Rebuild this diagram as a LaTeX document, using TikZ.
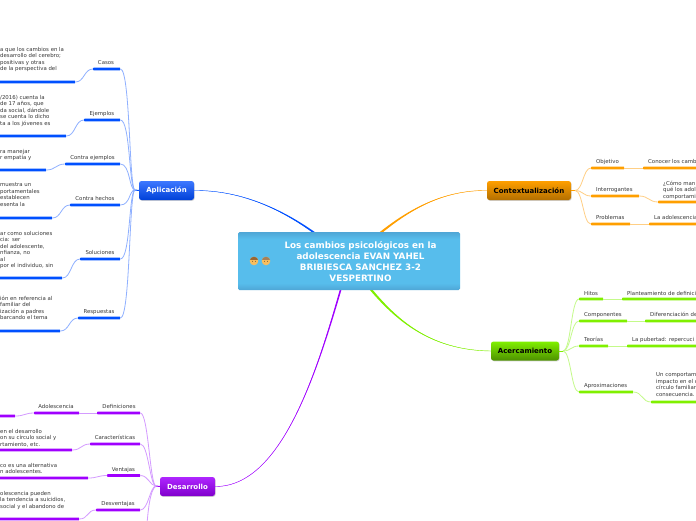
\documentclass[tikz,border=0pt]{standalone}
\usepackage{fontspec}
\setmainfont{DejaVu Sans}
\usetikzlibrary{shadows,calc}
\definecolor{tblue}{HTML}{0050FF}
\definecolor{lblue}{HTML}{8FB0FF}
\definecolor{torange}{HTML}{FF9F00}
\definecolor{lorange}{HTML}{FFCF85}
\definecolor{tgreen}{HTML}{80F000}
\definecolor{lgreen}{HTML}{C4FA8A}
\definecolor{tpurple}{HTML}{A000FF}
\definecolor{lpurple}{HTML}{D49BFF}
\definecolor{txt}{HTML}{383838}
\definecolor{skya}{HTML}{4FA6D6}
\definecolor{skyb}{HTML}{57BDEC}
\definecolor{bluetop}{HTML}{3D78FF}
\definecolor{bluebot}{HTML}{0040D8}
\definecolor{skin}{HTML}{F7BE5F}
\pgfdeclareverticalshading{ctrshade}{100bp}{color(0bp)=(skya); color(25bp)=(skya); color(31bp)=(skyb); color(69bp)=(skyb); color(75bp)=(skya); color(100bp)=(skya)}
\tikzset{
 lab/.style={font=\fontsize{5.4}{6.5}\selectfont,text=txt,inner sep=0pt,align=left,yshift=-0.8pt},
 main/.style={rounded corners=2.5pt,font=\bfseries\fontsize{7}{8}\selectfont,inner sep=0pt,minimum height=19pt,drop shadow={shadow xshift=0.6pt,shadow yshift=-0.8pt,opacity=.35}},
 conn/.style={line width=0.8pt},
 tbar/.style={inner sep=0pt,minimum height=2.8pt,rounded corners=0.5pt},
}
% name, x-left, x-right, y, colour
\newcommand{\tbarnode}[5]{\pgfmathsetmacro{\bw}{#3-(#2)}\node[tbar,fill=#5,minimum width=\bw pt,anchor=west] (#1) at (#2,#4) {};}
\newcommand{\lnk}[3]{\draw[conn,#3] (#1) .. controls +(-9,0) and +(9,0) .. (#2);}
\newcommand{\lnkr}[3]{\draw[conn,#3] (#1) .. controls +(9,0) and +(-9,0) .. (#2);}
\begin{document}
\begin{tikzpicture}[x=1pt,y=-1pt]
\useasboundingbox (0,0) rectangle (696,520);
\clip (0,0) rectangle (696,520);
\fill[white] (0,0) rectangle (696,520);

% central and main nodes
\node[main,minimum width=55pt,text=white,top color=bluetop,bottom color=bluebot] (apl) at (166.5,190.5) {Aplicación};
\node[main,minimum width=84pt,text=black,top color=torange,bottom color=torange!70!black] (ctx) at (529,190.5) {Contextualización};
\node[main,minimum width=68pt,text=black,top color=tgreen,bottom color=tgreen!60!black] (ace) at (525,351) {Acercamiento};
\node[main,minimum width=55pt,text=white,top color=tpurple!85!white,bottom color=tpurple!80!black] (des) at (187.5,486.5) {Desarrollo};
\coordinate (ctr) at (349,261);

% main connectors
\fill[tblue] (apl.east) .. controls (255,190) and (305,222) .. ([shift={(-1,1)}]ctr) -- ([shift={(1,-1)}]ctr) .. controls (306,221) and (255,190) .. (apl.east);
\draw[tblue,line width=.4pt] (apl.east) .. controls (255,190) and (305,222) .. (ctr);
\fill[torange] (ctx.west) .. controls (432,190) and (392,221) .. ([shift={(1,1)}]ctr) -- ([shift={(-1,-1)}]ctr) .. controls (391,219) and (432,190) .. (ctx.west);
\draw[torange,line width=.4pt] (ctx.west) .. controls (432,190) and (392,220) .. (ctr);
\fill[tgreen] (ace.west) .. controls (420,350) and (385,309) .. ([shift={(1,-1)}]ctr) -- ([shift={(-1,1)}]ctr) .. controls (384,311) and (420,350) .. (ace.west);
\draw[tgreen,line width=.4pt] (ace.west) .. controls (420,350) and (385,310) .. (ctr);
\fill[tpurple] (des.east) .. controls (290,487) and (325,340) .. ([shift={(-1,0)}]ctr) -- ([shift={(1,0)}]ctr) .. controls (326,340) and (290,487) .. (des.east);
\draw[tpurple,line width=.4pt] (des.east) .. controls (290,487) and (325,340) .. (ctr);

\node[inner sep=0pt,minimum width=222pt,minimum height=58pt,rounded corners=1.5pt,shading=ctrshade] (ctrbox) at (349,261) {};
\node[text=white,font=\bfseries\fontsize{8.8}{11}\selectfont,align=center,inner sep=0pt] (title) at (360.5,261.8) {Los cambios psicológicos en la\\adolescencia EVAN YAHEL\\BRIBIESCA SANCHEZ 3-2\\VESPERTINO};

% faces
\foreach \nm/\fx/\hc in {facea/254/brown!80!black,faceb/266/brown!60!gray}{
 \node[circle,inner sep=0pt,minimum size=8.6pt,fill=skin] (\nm) at (\fx,261) {};
 \begin{scope}
  \clip (\nm) circle (4.3pt);
  \fill[\hc] ($(\nm.center)+(-5,-5)$) rectangle ($(\nm.center)+(5,-1.2)$);
 \end{scope}
 \fill[brown!30!black] ($(\nm.center)+(-1.5,0.3)$) circle (.4pt) ($(\nm.center)+(1.5,0.3)$) circle (.4pt);
}

% ---- Aplicación ----
\coordinate (af) at (135,190);
\draw[tblue,line width=1pt] (af) -- (apl.west);
\foreach \nm/\xa/\xb/\yy/\lb/\cx/\ly in {ac/93/120/69/Casos/106/62,ae/84/120/120/Ejemplos/102/113,ace2/65/120/164/Contra ejemplos/92.5/157,ah/70/120/205/Contra hechos/95/198,as/80/120/259/Soluciones/100/252,ar/78/120/318/Respuestas/99/311}{
 \tbarnode{\nm}{\xa}{\xb}{\yy}{tblue}
 \node[lab] (\nm t) at (\cx,\ly) {\lb};
 \draw[conn,lblue] (\nm.east) .. controls +(10,0) and +(-6,0) .. (af);
}
\foreach \nm/\pr/\xb/\yy in {ac2/ac/75/82,ae2/ae/66/136,ace3/ace2/46/170,ah2/ah/52/218,as2/as/62/278,ar2/ar/60/331}{
 \tbarnode{\nm}{-3}{\xb}{\yy}{tblue}
 \lnk{\pr.west}{\nm.east}{lblue}
}
\node[lab,anchor=north west] (t1) at (0,46) {a que los cambios en la\\desarrollo del cerebro;\\positivas y otras\\de la perspectiva del};
\node[lab,anchor=north west] (t2) at (0,94) {/2016) cuenta la\\ de 17 años, que\\da social, dándole\\se cuenta lo dicho\\ta a los jóvenes es};
\node[lab,anchor=north west] (t3) at (0,148) {ra manejar\\r empatía y};
\node[lab,anchor=north west] (t4) at (0,182) {muestra un\\portamentales\\establecen\\esenta la};
\node[lab,anchor=north west] (t5) at (0,230) {ar como soluciones\\cia: ser\\ del adolescente,\\nfianza, no\\ al\\por el individuo, sin};
\node[lab,anchor=north west] (t6) at (0,295) {ión en referencia al\\familiar del\\ización a padres\\barcando el tema};

% ---- Contextualización ----
\coordinate (cf) at (575,190.5);
\draw[torange,line width=1pt] (ctx.east) -- (cf);
\foreach \nm/\xa/\xb/\yy/\lb/\ly in {co/591/624/168/Objetivo/161,ci/591/639/196/Interrogantes/189,cp/591/630/224/Problemas/217}{
 \tbarnode{\nm}{\xa}{\xb}{\yy}{torange}
 \node[lab,anchor=west] (\nm t) at (596,\ly) {\lb};
 \draw[conn,lorange] (cf) .. controls +(8,0) and +(-8,0) .. (\nm.west);
}
\tbarnode{co2}{643}{699}{168}{torange}
\tbarnode{ci2}{658}{699}{202}{torange}
\tbarnode{cp2}{649}{699}{224}{torange}
\lnkr{co.east}{co2.west}{lorange}
\lnkr{ci.east}{ci2.west}{lorange}
\lnkr{cp.east}{cp2.west}{lorange}
\node[lab,anchor=west] (co2t) at (648,161) {Conocer los camb};
\node[lab,anchor=west] (cp2t) at (654,217) {La adolescencia};
\node[lab,anchor=north west] (ci2t) at (663,180) {¿Cómo man\\qué los adol\\comportami};

% ---- Acercamiento ----
\coordinate (gf) at (563,351);
\draw[tgreen,line width=1pt] (ace.east) -- (gf);
\foreach \nm/\xa/\xb/\yy/\lb/\ly in {gh/579/603/299/Hitos/293,gc/579/627/321/Componentes/314,gt/579/608/346/Teorías/339,ga/579/633/392/Aproximaciones/385}{
 \tbarnode{\nm}{\xa}{\xb}{\yy}{tgreen}
 \node[lab,anchor=west] (\nm t) at (584,\ly) {\lb};
 \draw[conn,lgreen] (gf) .. controls +(8,0) and +(-8,0) .. (\nm.west);
}
\tbarnode{gh2}{622}{699}{299}{tgreen}
\tbarnode{gc2}{645}{699}{321}{tgreen}
\tbarnode{gt2}{627}{699}{346}{tgreen}
\tbarnode{ga2}{651}{699}{402}{tgreen}
\lnkr{gh.east}{gh2.west}{lgreen}
\lnkr{gc.east}{gc2.west}{lgreen}
\lnkr{gt.east}{gt2.west}{lgreen}
\lnkr{ga.east}{ga2.west}{lgreen}
\node[lab,anchor=west] (gh2t) at (627,293) {Planteamiento de definici};
\node[lab,anchor=west] (gc2t) at (650,314) {Diferenciación de};
\node[lab,anchor=west] (gt2t) at (632,339) {La pubertad: repercuci};
\node[lab,anchor=north west] (ga2t) at (656,372) {Un comportam\\impacto en el c\\círculo familiar\\consecuencia.};

% ---- Desarrollo ----
\coordinate (pf) at (156,486);
\draw[tpurple,line width=1pt] (pf) -- (des.west);
\foreach \nm/\xa/\yy/\lb/\cx/\ly in {pd/97/413/Definiciones/119/406,pc/90/444/Características/115/437,pv/107/475.5/Ventajas/123.5/469,pe/96/510/Desventajas/118/503}{
 \tbarnode{\nm}{\xa}{140}{\yy}{tpurple}
 \node[lab] (\nm t) at (\cx,\ly) {\lb};
 \draw[conn,lpurple] (\nm.east) .. controls +(8,0) and +(-6,0) .. (pf);
}
\coordinate (pb) at (147,524);
\draw[conn,lpurple] (pf) .. controls +(-6,3) and +(1,-12) .. (pb);
\tbarnode{pd2}{34}{79}{413}{tpurple}
\node[lab] (pd2t) at (56,406) {Adolescencia};
\lnk{pd.west}{pd2.east}{lpurple}
\tbarnode{pd3}{-3}{15}{416}{tpurple}
\lnk{pd2.west}{pd3.east}{lpurple}
\tbarnode{pc2}{-3}{72}{450}{tpurple}
\lnk{pc.west}{pc2.east}{lpurple}
\tbarnode{pv2}{-3}{88}{478}{tpurple}
\lnk{pv.west}{pv2.east}{lpurple}
\tbarnode{pe2}{-3}{79}{519}{tpurple}
\lnk{pe.west}{pe2.east}{lpurple}
\node[lab,anchor=north west] (t7) at (0,428) {en el desarrollo\\on su círculo social y\\rtamiento, etc.};
\node[lab,anchor=north west] (t8) at (0,462) {co es una alternativa\\n adolescentes.};
\node[lab,anchor=north west] (t9) at (0,490) {olescencia pueden\\la tendencia a suicidios,\\social y el abandono de};
\end{tikzpicture}
\end{document}
